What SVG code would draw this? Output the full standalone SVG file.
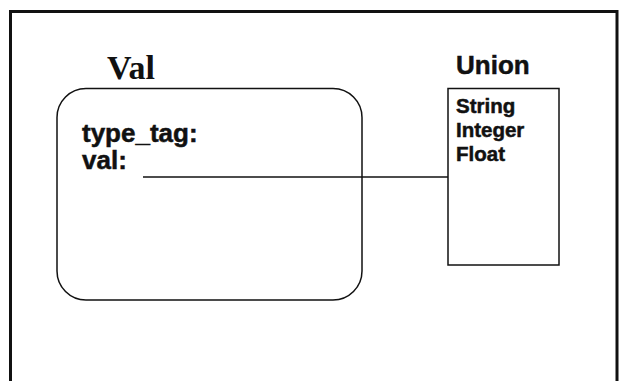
<svg xmlns="http://www.w3.org/2000/svg" width="627" height="381" viewBox="0 0 627 381">
<style>
.frame{fill:none;stroke:#111;stroke-width:3}
.box{fill:none;stroke:#111;stroke-width:1.5}
.conn{fill:none;stroke:#111;stroke-width:1.5}
.sans{font-family:"Liberation Sans",Arial,sans-serif;font-weight:bold;fill:#111;stroke:#111;stroke-width:0.5}
.serif{font-family:"Liberation Serif","Times New Roman",serif;font-weight:bold;fill:#111}
</style>
<rect width="627" height="381" fill="#fff"/>
<rect class="frame" x="10.5" y="11.5" width="606.5" height="390"/>
<g id="val">
<text class="serif" x="107" y="79" font-size="34">Val</text>
<rect class="box" x="57" y="88.5" width="305" height="211.5" rx="29" ry="29"/>
<text class="sans" x="82" y="142" font-size="26">type_tag:</text>
<text class="sans" x="82" y="169" font-size="26">val:</text>
</g>
<g id="union">
<text class="sans" x="456" y="74" font-size="26">Union</text>
<rect class="box" x="448" y="88.5" width="111" height="176.5"/>
<text class="sans" x="456" y="113" font-size="20.5">String</text>
<text class="sans" x="456" y="137" font-size="20.5">Integer</text>
<text class="sans" x="456" y="161" font-size="20.5">Float</text>
</g>
<g id="connectors">
<line class="conn" x1="143" y1="177" x2="448" y2="177"/>
</g>
</svg>
